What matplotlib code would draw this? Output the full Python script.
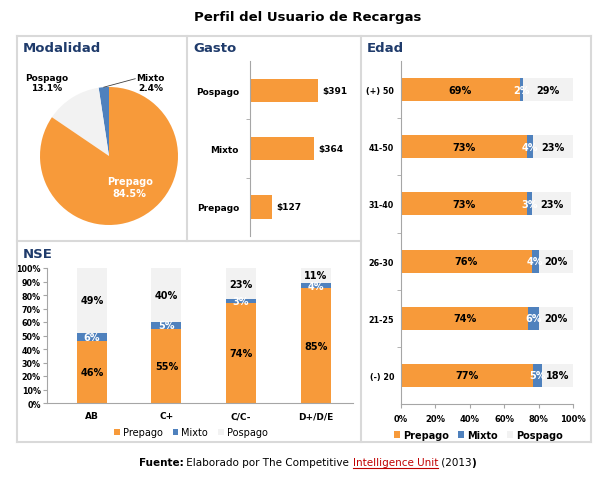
import matplotlib
matplotlib.use("Agg")
from matplotlib import pyplot as plt
from matplotlib.lines import Line2D
import numpy as np

# datos
modal_labels = ["Mixto", "Pospago", "Prepago"]
modal_vals = [2.4, 13.1, 84.5]

gasto_labels = ["Prepago", "Mixto", "Pospago"]
gasto_vals = [127, 364, 391]

edad_labels = ["(+) 50", "41-50", "31-40", "26-30", "21-25", "(-) 20"]
edad_prepago = [69, 73, 73, 76, 74, 77]
edad_mixto = [2, 4, 3, 4, 6, 5]
edad_pospago = [29, 23, 23, 20, 20, 18]

nse_labels = ["AB", "C+", "C/C-", "D+/D/E"]
nse_prepago = [46, 55, 74, 85]
nse_mixto = [6, 5, 3, 4]
nse_pospago = [49, 40, 23, 11]

serie_nombres = ["Prepago", "Mixto", "Pospago"]

NARANJA = "#F79A3A"
AZUL = "#4F81BD"
GRIS = "#F2F2F2"
NAVY = "#1F3B6B"
EJE = "#A6A6A6"

W, H = 615, 485
fig = plt.figure(figsize=(W / 100, H / 100), dpi=100)
fig.patch.set_facecolor("white")


def ax_px(x0, y0, x1, y1):
    return fig.add_axes([x0 / W, 1 - y1 / H, (x1 - x0) / W, (y1 - y0) / H])


def fx(x):
    return x / W


def fy(y):
    return 1 - y / H


# marcos de los paneles
borde = dict(color="#D9D9D9", linewidth=1.5, transform=fig.transFigure)
for (x0, y0, x1, y1) in [(17, 37, 591, 37), (17, 443, 591, 443), (17, 37, 17, 443),
                         (591, 37, 591, 443), (187, 37, 187, 242), (361, 37, 361, 443),
                         (17, 242, 361, 242)]:
    fig.add_artist(Line2D([fx(x0), fx(x1)], [fy(y0), fy(y1)], **borde))

# titulo
fig.text(0.5, fy(18), "Perfil del Usuario de Recargas", ha="center", va="center",
         fontsize=9.5, fontweight="bold")

for txt, x, y in [("Modalidad", 23, 48), ("Gasto", 193, 48), ("Edad", 367, 48), ("NSE", 23, 255)]:
    fig.text(fx(x), fy(y), txt, ha="left", va="center", fontsize=9.5,
             fontweight="bold", color=NAVY)

# ---- Modalidad (pie)
ax = ax_px(40, 88, 178, 226)
wedges, _ = ax.pie(modal_vals, colors=[AZUL, GRIS, NARANJA], startangle=90,
                   counterclock=True, radius=1)
ax.set_xlim(-1, 1)
ax.set_ylim(-1, 1)
ax.set_aspect("equal")
ax.text(-0.9, 1.07, "Pospago\n13.1%", ha="center", va="center", fontsize=6.5,
        fontweight="bold", linespacing=1.1)
ax.text(0.6, 1.07, "Mixto\n2.4%", ha="center", va="center", fontsize=6.5,
        fontweight="bold", linespacing=1.1)
ang = np.deg2rad((wedges[0].theta1 + wedges[0].theta2) / 2)
ax.plot([np.cos(ang), 0.38], [np.sin(ang), 1.12], color="#404040", lw=0.6, clip_on=False)
ax.text(0.3, -0.45, "Prepago\n84.5%", ha="center", va="center", fontsize=7,
        fontweight="bold", color="white", linespacing=1.2)

# ---- Gasto
ax = ax_px(250, 62, 355, 237)
y = np.arange(len(gasto_labels))
ax.barh(y, gasto_vals, height=0.4, color=NARANJA)
ax.set_xlim(0, 600)
ax.set_ylim(-0.5, 2.5)
for s in ["top", "right", "bottom"]:
    ax.spines[s].set_visible(False)
ax.spines["left"].set_color(EJE)
ax.set_xticks([])
ax.set_yticks(y)
ax.set_yticklabels(gasto_labels, fontsize=6.5, fontweight="bold")
ax.tick_params(axis="y", which="major", length=0, pad=8)
ax.set_yticks([0.5, 1.5], minor=True)
ax.tick_params(axis="y", which="minor", length=3, color=EJE)
for yi, v in zip(y, gasto_vals):
    ax.text(v + 25, yi, "$%d" % v, ha="left", va="center", fontsize=6.5, fontweight="bold")

# ---- Edad
ax = ax_px(401, 62, 573, 405)
y = np.arange(len(edad_labels))
p = np.array(edad_prepago)
m = np.array(edad_mixto)
g = np.array(edad_pospago)
ax.barh(y, p, height=0.4, color=NARANJA, label=serie_nombres[0])
ax.barh(y, m, left=p, height=0.4, color=AZUL, label=serie_nombres[1])
ax.barh(y, g, left=p + m, height=0.4, color=GRIS, label=serie_nombres[2])
ax.set_xlim(0, 100)
ax.set_ylim(len(y) - 0.5, -0.5)
for s in ["top", "right"]:
    ax.spines[s].set_visible(False)
ax.spines["left"].set_color(EJE)
ax.spines["bottom"].set_color(EJE)
ax.set_yticks(y)
ax.set_yticklabels(edad_labels, fontsize=5.8, fontweight="bold")
ax.tick_params(axis="y", which="major", length=0, pad=5)
ax.set_yticks(np.arange(0.5, len(y) - 1, 1), minor=True)
ax.tick_params(axis="y", which="minor", length=3, color=EJE)
ax.set_xticks(range(0, 101, 20))
ax.set_xticklabels(["%d%%" % t for t in range(0, 101, 20)], fontsize=6, fontweight="bold")
ax.tick_params(axis="x", length=3, color=EJE, pad=4)
for yi in y:
    ax.text(p[yi] / 2, yi, "%d%%" % p[yi], ha="center", va="center", fontsize=7, fontweight="bold")
    ax.text(p[yi] + m[yi] / 2, yi, "%d%%" % m[yi], ha="center", va="center", fontsize=7,
            fontweight="bold", color="white")
    ax.text(p[yi] + m[yi] + g[yi] / 2, yi, "%d%%" % g[yi], ha="center", va="center",
            fontsize=7, fontweight="bold")
ax.legend(loc="center", bbox_to_anchor=(0.45, -0.09), ncol=3, frameon=False,
          prop=dict(size=7, weight="bold"), handlelength=0.6, handleheight=0.6,
          handletextpad=0.3, columnspacing=1.0, borderaxespad=0)

# ---- NSE
ax = ax_px(47, 269, 353, 404)
x = np.arange(len(nse_labels))
p = np.array(nse_prepago)
m = np.array(nse_mixto)
g = np.array(nse_pospago)
ax.bar(x, p, width=0.4, color=NARANJA, label=serie_nombres[0])
ax.bar(x, m, bottom=p, width=0.4, color=AZUL, label=serie_nombres[1])
ax.bar(x, g, bottom=p + m, width=0.4, color=GRIS, label=serie_nombres[2])
ax.set_xlim(-0.6, 3.5)
ax.set_ylim(0, 100)
for s in ["top", "right"]:
    ax.spines[s].set_visible(False)
ax.spines["left"].set_color(EJE)
ax.spines["bottom"].set_color(EJE)
ax.set_yticks(range(0, 101, 10))
ax.set_yticklabels(["%d%%" % t for t in range(0, 101, 10)], fontsize=5.8, fontweight="bold")
ax.tick_params(axis="y", length=3, color=EJE, pad=1.5)
ax.set_xticks(x)
ax.set_xticklabels(nse_labels, fontsize=6.5, fontweight="bold")
ax.tick_params(axis="x", length=0, pad=6)
for xi in x:
    ax.text(xi, p[xi] / 2, "%d%%" % p[xi], ha="center", va="center", fontsize=7, fontweight="bold")
    ax.text(xi, p[xi] + m[xi] / 2, "%d%%" % m[xi], ha="center", va="center", fontsize=7,
            fontweight="bold", color="white")
    ax.text(xi, min(p[xi] + m[xi] + g[xi] / 2, 100 - 4), "%d%%" % g[xi], ha="center",
            va="center", fontsize=7, fontweight="bold")
ax.legend(loc="center", bbox_to_anchor=(0.47, -0.215), ncol=3, frameon=False,
          prop=dict(size=7), handlelength=0.6, handleheight=0.6,
          handletextpad=0.3, columnspacing=1.0, borderaxespad=0)

# ---- pie de pagina
piezas = [("Fuente:", "bold", "black"), (" Elaborado por The Competitive ", "normal", "black"),
          ("Intelligence Unit", "normal", "#C00000"), (" (2013", "normal", "black"),
          (")", "bold", "black")]
r = fig.canvas.get_renderer()
textos = []
total = 0
for s, w, c in piezas:
    t = fig.text(0, fy(466), s, fontsize=7.5, fontweight=w, color=c, va="baseline")
    ancho = t.get_window_extent(renderer=r).width
    textos.append((t, ancho))
    total += ancho
x0 = (W * 0.5 - total / 2)
for i, (t, ancho) in enumerate(textos):
    t.set_x(fx(x0))
    if i == 2:
        fig.add_artist(Line2D([fx(x0), fx(x0 + ancho)], [fy(468.5), fy(468.5)],
                              color="#C00000", lw=0.8, transform=fig.transFigure))
    x0 += ancho

fig.savefig("out.png", dpi=100)
